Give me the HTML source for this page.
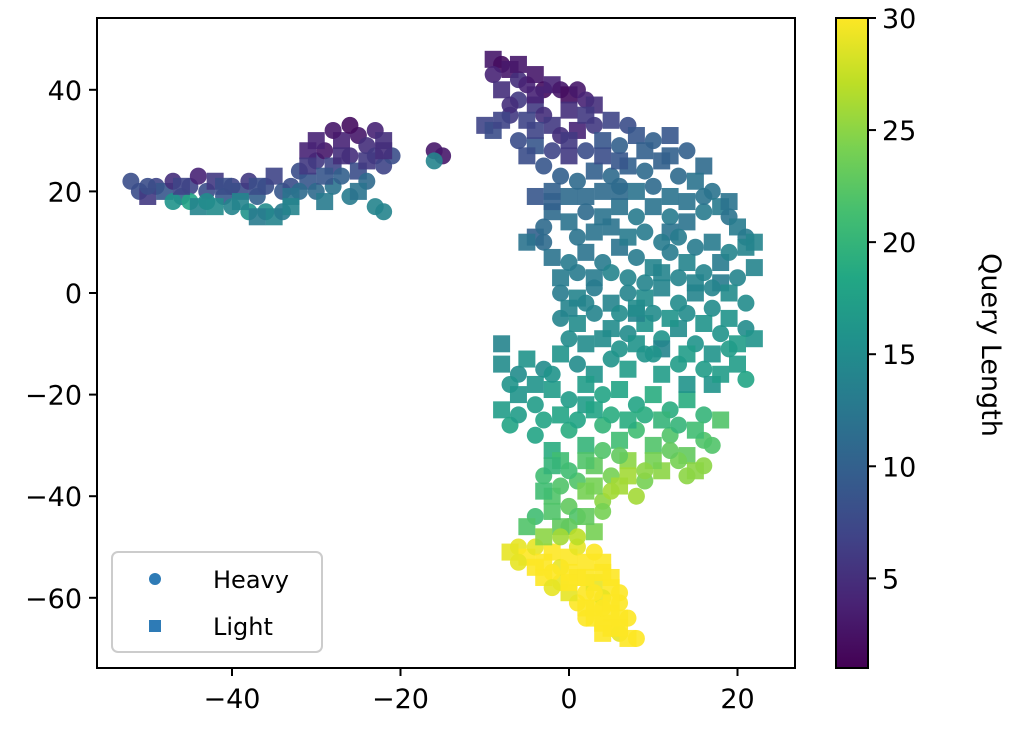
<!DOCTYPE html>
<html><head><meta charset="utf-8"><style>
html,body{margin:0;padding:0;background:#fff;}
svg{display:block;font-family:"DejaVu Sans","Liberation Sans",sans-serif;}
</style></head><body>
<svg id="chart" width="1024" height="744" viewBox="0 0 1024 744" xmlns="http://www.w3.org/2000/svg">
<defs><linearGradient id="cbgrad" x1="0" y1="1" x2="0" y2="0"></linearGradient></defs>
<g id="points"></g>
<rect x="97" y="18" width="698" height="650" fill="none" stroke="#000" stroke-width="2"/>
<g id="xticks"></g>
<g id="yticks"></g>
<g>
<rect x="112" y="552" width="210" height="100" rx="6" fill="#fff" fill-opacity="0.85" stroke="#ccc" stroke-width="2"/>
<circle cx="155" cy="579" r="6" fill="#2e7bb6"/>
<text x="213" y="588" font-size="24">Heavy</text>
<rect x="149" y="620" width="12" height="12" fill="#2e7bb6"/>
<text x="213" y="635" font-size="24">Light</text>
</g>
<rect id="cbar" x="836" y="18" width="32" height="650" fill="url(#cbgrad)" stroke="#000" stroke-width="2"/>
<g id="cbticks"></g>
<text transform="translate(982,345) rotate(90)" text-anchor="middle" font-size="27">Query Length</text>
</svg>
<script>
const xsA=[-52,-51,-50,-49,-48,-47,-46,-45,-44,-43,-42,-41,-40,-39,-38,-37,-36,-35,-34,-33,
-47,-45,-44,-42,-40,-38,-36,-35,-34,-37,
-32,-31,-30,-30,-29,-28,-28,-27,-27,-26,-26,-25,-25,-24,-24,-23,-23,-22,-22,-21,-23,-22,-29,-31,-26,-28,-32,-33,
-16,-15,-16,
-9,-8,-9,-7,-6,-8,-5,-4,-3,-2,-1,0,1,2,3,-4,-6,-10,-9,-7,-5,-3,-2,-1,1,3,5,7,-6,-4,-2,0,2,4,6,8,10,12,14,16,-3,-1,1,3,5,7,9,11,13,15,17,18,19,20,21,22,-4,-3,-2,0,2,4,6,8,10,12,14,16,-2,0,2,4,6,8,10,12,14,16,18,20,22,-1,1,3,5,7,9,11,13,15,17,19,21,22,-1,1,3,5,7,9,11,13,15,17,19,20,21,
-8,-6,-5,-3,-1,1,3,5,7,9,11,13,-8,-7,-6,-4,-2,0,2,4,6,8,10,12,14,16,-4,-2,0,2,4,6,8,10,12,14,16,18,-3,-1,1,3,5,7,9,11,13,15,16,
-2,0,2,4,6,8,-1,1,3,-4,-5,
-6,-5,-4,-3,-2,-1,0,1,2,3,-3,-1,1,2,3,4,5,1,3,4,5,6,4,5,6,7,7,2,0,
-4,-2,-5,-8,8,12,18,14,6,-7,11,17];
const ysA=[22,20,19,21,20,22,19,21,23,20,22,19,21,20,22,19,21,23,20,21,
18,18,17,17,17,16,16,15,16,15,
24,22,26,20,28,25,21,30,23,27,19,31,24,29,22,32,27,30,25,27,17,16,18,28,33,32,20,19,
28,27,26,
46,45,43,44,42,40,41,43,40,41,40,39,40,38,37,37,38,33,32,35,34,35,33,31,32,33,34,33,30,29,28,27,28,30,29,31,30,31,28,25,25,23,22,24,23,25,24,26,23,22,20,17,15,13,11,10,11,10,16,14,16,15,17,15,17,15,14,16,7,6,8,6,9,7,5,8,6,4,6,3,5,0,-1,1,-2,0,-1,1,-2,0,-3,-5,-7,-9,-5,-6,-4,-7,-8,-6,-9,-7,-10,-12,-11,-14,-17,
-14,-16,-13,-15,-12,-14,-16,-13,-15,-12,-16,-14,-23,-26,-20,-22,-19,-21,-18,-20,-19,-22,-20,-23,-21,-24,-28,-31,-27,-30,-26,-29,-27,-30,-28,-32,-29,-25,-36,-33,-37,-34,-36,-33,-37,-35,-33,-35,-34,
-40,-42,-39,-41,-38,-40,-46,-44,-47,-44,-46,
-50,-52,-50,-53,-51,-54,-52,-50,-53,-51,-56,-57,-56,-59,-57,-55,-58,-61,-62,-60,-63,-61,-65,-66,-67,-68,-64,-64,-59,
19,18,10,-10,-4,12,2,-18,20,37,-11,-18];
const qsA=[8,8,6,7,9,5,10,7,4,8,6,9,7,8,6,10,8,7,9,8,
16,18,14,15,14,16,15,14,13,13,
8,9,6,11,3,7,12,4,10,5,13,3,8,5,11,4,6,5,7,8,14,14,13,4,2,3,11,12,
3,3,14,
3,2,4,3,5,5,4,3,2,4,3,2,3,4,5,6,6,7,8,6,7,5,6,5,4,6,7,8,8,9,7,6,8,9,10,9,10,9,10,11,9,10,11,10,11,10,11,10,11,12,12,13,12,13,13,14,10,11,11,12,11,12,12,13,12,13,12,13,12,13,12,13,12,13,14,13,14,14,13,14,14,13,14,13,14,14,15,14,15,14,15,16,15,16,14,15,14,15,15,16,16,15,16,16,17,17,18,
15,15,16,15,16,15,16,16,17,16,17,17,17,18,16,17,17,17,17,18,18,18,19,19,19,20,18,19,19,20,20,21,21,22,22,23,22,22,21,21,22,23,24,25,24,25,24,25,25,
22,23,24,25,26,26,23,22,24,21,22,
29,30,29,30,30,29,30,29,30,30,30,29,30,30,29,30,30,30,30,29,30,30,30,30,29,30,30,30,29,
9,10,12,14,14,12,13,16,11,5,14,16];
const shapesA="ccscscccccsccscccscc"+"ccsscccscs"+"cscccscsccccsccccsccccsscccs"+"ccc"+
"sccscscscscsccsscsscscscscsccscscscscscscccscscscscscscsscsscsscscscscscscscscscscscscsscscscscscscscscscscscscscscscscscscscscscscscc"+
"scscscscscscscscscscscscscscscscscscsscscscscscsss"+"cscscsscscc"+"ssssssssssc"+"ssssssssssssssssss"+"cscsscsscc"+"ss";
const xsB=[-6,-4,0,2,-8,-4,0,4,6,9,12,-5,-2,0,2,4,6,8,10,12,14,16,19,21,-3,1,3,5,7,9,11,13,15,17,19,-1,1,3,5,7,9,11,13,15,17,19,21,0,2,4,6,8,10,12,14,16,18,20,0,2,6,8,10,14,16,18,-7,-4,-2,2,-6,-3,-1,1,3,5,7,9,11,13,15,17,-2,0,2,4,6,10,12,14,-3,-1,3,5,7,9,-2,0,2,4,-3,-1,1,
-7,-6,-4,-2,0,-2,0,2,4,5,6,2,3,4,6,3,5,6,8,4,
-50,-46,-43,-41,-39,-37,-33,-31,-29,-27,-25,-24,-22,-30];
const ysB=[45,39,36,35,34,32,30,27,26,28,27,27,20,19,19,20,21,20,21,19,18,19,18,9,13,11,12,13,11,12,10,11,9,10,8,3,4,3,4,3,2,4,3,2,1,0,-2,-3,-2,-9,-4,-3,-4,-5,-4,-6,-8,-10,-9,-10,-11,-10,-12,-12,-15,-16,-18,-18,-16,-22,-24,-25,-24,-25,-23,-24,-25,-24,-25,-26,-27,-30,-34,-35,-33,-31,-32,-33,-31,-36,-39,-38,-38,-39,-36,-35,-43,-46,-44,-43,-48,-48,-48,
-51,-53,-54,-55,-55,-58,-57,-56,-53,-56,-59,-62,-64,-62,-64,-59,-61,-66,-68,-67,
21,21,18,21,18,21,17,25,23,27,20,26,28,30];
const qsB=[3,4,5,6,7,7,6,8,9,10,10,8,10,11,11,11,11,12,11,12,12,12,12,14,11,12,12,12,13,13,13,13,13,13,14,13,13,13,14,14,14,14,14,14,14,15,15,14,14,15,15,15,15,16,15,16,16,17,15,15,16,16,16,17,17,17,16,16,16,17,17,18,18,18,18,19,19,19,20,20,21,22,20,21,22,22,23,24,23,25,21,22,24,26,26,25,22,23,23,24,25,26,27,
29,29,30,30,30,29,30,30,30,30,30,30,30,30,30,30,30,30,30,30,
8,7,15,8,14,8,14,6,9,5,12,6,5,4];
const shapesB="sccccscscscccscscscscscscscscscscscscscscsccscscscscscscsccsccscscscscscsccscscscsssscsscscsscscscs"+"ssssssssssssssssssss"+"cscccccsccccccc";
const xs=xsA.concat(xsB), ys=ysA.concat(ysB), qs=qsA.concat(qsB), shapes=(shapesA+shapesB).split("");
const xTickVals=[-40,-20,0,20];
const yTickVals=[40,20,0,-20,-40,-60];
const cTickVals=[5,10,15,20,25,30];

const NS="http://www.w3.org/2000/svg";
const X=v=>569+v*8.425, Y=v=>293-v*5.08;
const CMIN=1,CMAX=30, CY=v=>668-(v-CMIN)/(CMAX-CMIN)*650;
const VIR=[[68,1,84],[72,35,116],[64,67,135],[52,94,141],[41,120,142],[32,144,140],[34,167,132],[68,190,112],[121,209,81],[189,222,38],[253,231,37]];
function vir(t){t=Math.max(0,Math.min(1,t));const f=t*10,i=Math.min(9,Math.floor(f)),r=f-i;const a=VIR[i],b=VIR[i+1];return "rgb("+a.map((c,k)=>Math.round(c+(b[k]-c)*r)).join(",")+")";}
function mk(tag,attrs,parent){const e=document.createElementNS(NS,tag);for(const k in attrs)e.setAttribute(k,attrs[k]);parent.appendChild(e);return e;}
const g=document.getElementById('points');
for(let i=0;i<xs.length;i++){
  const col=vir((qs[i]-CMIN)/(CMAX-CMIN));
  let el;
  if(shapes[i]!=="s") el=mk('circle',{cx:X(xs[i]),cy:Y(ys[i]),r:8.5,fill:col,'fill-opacity':0.9},g);
  else el=mk('rect',{x:X(xs[i])-8.5,y:Y(ys[i])-8.5,width:17,height:17,fill:col,'fill-opacity':0.9},g);
  
  
}
const xt=document.getElementById('xticks');
xTickVals.forEach(v=>{
  const l=mk('line',{x1:X(v),x2:X(v),y1:668,y2:676,stroke:'#000','stroke-width':2},xt);
  
  
  const t=mk('text',{x:X(v),y:708,'text-anchor':'middle','font-size':27},xt);
  t.textContent=v<0?'\u2212'+(-v):String(v);
  
  
});
const yt=document.getElementById('yticks');
yTickVals.forEach(v=>{
  const l=mk('line',{x1:89,x2:97,y1:Y(v),y2:Y(v),stroke:'#000','stroke-width':2},yt);
  
  
  const t=mk('text',{x:82,y:Y(v)+10,'text-anchor':'end','font-size':27},yt);
  t.textContent=v<0?'\u2212'+(-v):String(v);
  
  
});
const gr=document.getElementById('cbgrad');
for(let k=0;k<=10;k++){mk('stop',{offset:(k*10)+'%','stop-color':vir(k/10)},gr);}
const ct=document.getElementById('cbticks');
cTickVals.forEach(v=>{
  const l=mk('line',{x1:868,x2:876,y1:CY(v),y2:CY(v),stroke:'#000','stroke-width':2},ct);
  
  
  const t=mk('text',{x:882,y:CY(v)+10,'font-size':27},ct);
  t.textContent=String(v);
  
  
});
</script>
</body></html>
